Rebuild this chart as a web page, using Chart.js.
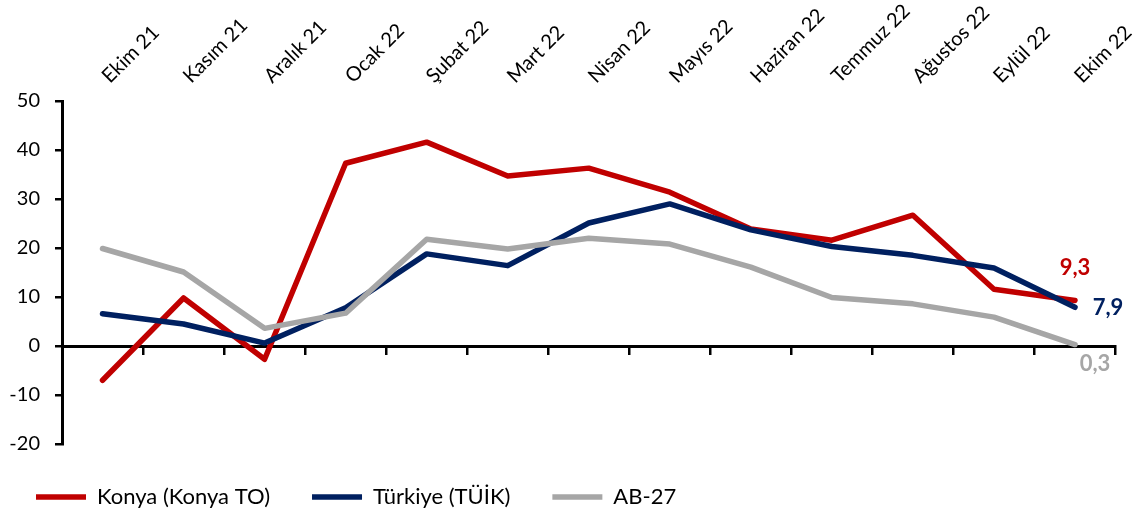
<!DOCTYPE html>
<html><head><meta charset="utf-8">
<script src="https://cdn.jsdelivr.net/npm/chart.js@4.4.1/dist/chart.umd.min.js"></script>
<style>html,body{margin:0;padding:0;background:#fff}</style>
</head><body>
<canvas id="c" width="1139" height="511"></canvas>
<script>
const categories = ["Ekim 21","Kasım 21","Aralık 21","Ocak 22","Şubat 22","Mart 22","Nisan 22","Mayıs 22","Haziran 22","Temmuz 22","Ağustos 22","Eylül 22","Ekim 22"];
const konya   = [-7.0, 9.8, -2.7, 37.3, 41.6, 34.7, 36.3, 31.4, 23.9, 21.6, 26.7, 11.6, 9.3];
const turkiye = [6.6, 4.5, 0.6, 7.8, 18.8, 16.4, 25.1, 29.0, 23.7, 20.3, 18.5, 15.9, 7.9];
const ab27    = [19.9, 15.1, 3.6, 6.7, 21.8, 19.8, 22.0, 20.8, 16.1, 9.9, 8.6, 5.9, 0.3];
const seriesNames = ["Konya (Konya TO)", "Türkiye (TÜİK)", "AB-27"];
const yMin = -20, yMax = 50, yStep = 10;

const RED = "#C00000", NAVY = "#002060", GRAY = "#A6A6A6";
const FONT = "Lato";

const endLabels = {
  id: "endLabels",
  afterDatasetsDraw(chart) {
    const ctx = chart.ctx, xs = chart.scales.x, ys = chart.scales.y;
    const specs = [
      {ds: 0, dx: 0, dy: -33, color: RED},
      {ds: 1, dx: 33, dy: 1, color: NAVY},
      {ds: 2, dx: 20, dy: 19, color: GRAY}
    ];
    ctx.save();
    ctx.font = "bold 22px " + FONT;
    ctx.textAlign = "center";
    ctx.textBaseline = "middle";
    specs.forEach(s => {
      const data = chart.data.datasets[s.ds].data;
      const i = data.length - 1;
      const v = data[i];
      const x = xs.getPixelForValue(i) + s.dx;
      const y = ys.getPixelForValue(v) + s.dy;
      ctx.fillStyle = s.color;
      ctx.fillText(v.toFixed(1).replace(".", ","), x, y);
    });
    ctx.restore();
  }
};

const mk = (label, data, color, order) => ({
  label, data, borderColor: color, backgroundColor: color,
  borderWidth: 5.5, pointRadius: 0, pointHoverRadius: 0, tension: 0, fill: false,
  borderCapStyle: "round", borderJoinStyle: "round", order,
  pointStyle: "line", xAxisID: "x", yAxisID: "y"
});

new Chart(document.getElementById("c"), {
  type: "line",
  data: {
    labels: categories,
    datasets: [
      mk(seriesNames[0], konya, RED, 3),
      mk(seriesNames[1], turkiye, NAVY, 2),
      mk(seriesNames[2], ab27, GRAY, 1)
    ]
  },
  options: {
    responsive: false,
    animation: false,
    devicePixelRatio: 1,
    layout: { padding: { left: -6, right: 17, top: 0, bottom: -7 } },
    plugins: {
      tooltip: { enabled: false },
      legend: {
        position: "bottom",
        align: "start",
        labels: {
          usePointStyle: true,
          pointStyleWidth: 50,
          boxHeight: 6,
          padding: 42,
          color: "#000",
          font: { family: FONT, size: 22 },
          sort: (a, b) => a.datasetIndex - b.datasetIndex
        }
      }
    },
    scales: {
      x: {
        type: "category",
        position: "top",
        offset: true,
        grid: { display: false, drawTicks: false, offset: true },
        border: { display: false },
        ticks: {
          autoSkip: false, minRotation: 45, maxRotation: 45,
          padding: 13, labelOffset: 20,
          color: "#000", font: { family: FONT, size: 20 }
        },
        afterFit(s) { s.height = 101; }
      },
      x2: {
        type: "category",
        position: { y: 0 },
        offset: true,
        grid: { offset: true, drawOnChartArea: false, drawTicks: true, tickLength: 7, color: "#000", lineWidth: 2.5 },
        border: { display: true, color: "#000", width: 3 },
        ticks: { display: false },
        afterFit(s) { s.height = 0; }
      },
      y: {
        type: "linear",
        min: yMin, max: yMax,
        grid: { drawOnChartArea: false, drawTicks: true, tickLength: 7, color: "#000", lineWidth: 2.5 },
        border: { display: true, color: "#000", width: 3 },
        ticks: { stepSize: yStep, padding: 15, color: "#000", font: { family: FONT, size: 20 } },
        afterFit(s) { s.width = 68; }
      }
    }
  },
  plugins: [endLabels]
});
</script>
</body></html>
